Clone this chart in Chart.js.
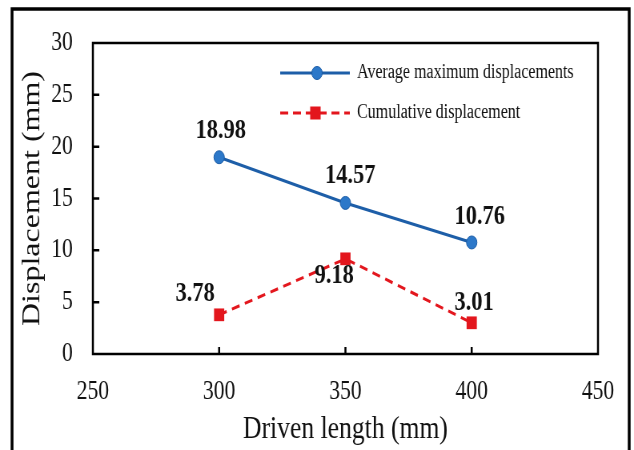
<!DOCTYPE html>
<html>
<head>
<meta charset="utf-8">
<script src="https://cdn.jsdelivr.net/npm/chart.js@4/dist/chart.umd.min.js"></script>
<style>
  html, body { margin: 0; padding: 0; background: #fff; overflow: hidden; }
  #chart { display: block; }
</style>
</head>
<body>
<!-- drawn on a wider canvas and shown narrower, giving the tall, condensed lettering -->
<canvas id="chart" width="792" height="450" style="width:634px;height:450px"></canvas>
<script>
// ---- data ----
const drivenLength = [300, 350, 400];
const avgMaxDisplacement = [18.98, 14.57, 10.76];
const cumulativeDisplacement = [3.78, 9.18, 3.01];
const seriesNames = ['Average maximum displacements', 'Cumulative displacement'];
const xTickValues = [250, 300, 350, 400, 450];
const yTickValues = [0, 5, 10, 15, 20, 25, 30];

// ---- styling ----
const SERIF = "'Liberation Serif', 'Times New Roman', serif";
const BLUE_LINE = '#1d5ea8';
const BLUE_FILL = '#2c78c9';
const RED = '#e3161d';
// value label placement relative to each point (canvas units)
const avgLabelOffsets = [[2, -29], [6, -29], [10, -28]];
const cumLabelOffsets = [[-30, -23], [-14, 15], [3, -22]];

const toPoints = (xs, ys) => xs.map((x, i) => ({ x, y: ys[i] }));

const decorations = {
  id: 'decorations',
  beforeDraw(chart) {
    const { ctx, width, height } = chart;
    ctx.save();
    ctx.fillStyle = '#fff';
    ctx.fillRect(0, 0, width, height);
    ctx.restore();
  },
  afterDraw(chart) {
    const { ctx, chartArea: a, scales } = chart;
    const xs = scales.x, ys = scales.y;
    ctx.save();

    // plot frame
    ctx.strokeStyle = '#000';
    ctx.lineWidth = 2.5;
    ctx.strokeRect(a.left, a.top, a.right - a.left, a.bottom - a.top);

    // inward tick marks
    ctx.lineWidth = 2.5;
    ctx.beginPath();
    yTickValues.forEach(v => {
      if (v === ys.min || v === ys.max) return;
      const py = ys.getPixelForValue(v);
      ctx.moveTo(a.left, py);
      ctx.lineTo(a.left + 8, py);
    });
    xTickValues.forEach(v => {
      if (v === xs.min || v === xs.max) return;
      const px = xs.getPixelForValue(v);
      ctx.moveTo(px, a.bottom);
      ctx.lineTo(px, a.bottom - 7);
    });
    ctx.stroke();

    // value labels
    ctx.fillStyle = '#111';
    ctx.font = 'bold 28px ' + SERIF;
    ctx.textAlign = 'center';
    ctx.textBaseline = 'alphabetic';
    const label = (dsIndex, values, offsets) => {
      chart.getDatasetMeta(dsIndex).data.forEach((pt, i) => {
        ctx.fillText(values[i].toFixed(2), pt.x + offsets[i][0], pt.y + offsets[i][1] + 9.5);
      });
    };
    label(0, avgMaxDisplacement, avgLabelOffsets);
    label(1, cumulativeDisplacement, cumLabelOffsets);

    // legend
    const lx0 = 350, lx1 = 437, textX = 446;
    const row1 = 73, row2 = 113;
    ctx.lineWidth = 3;
    ctx.strokeStyle = BLUE_LINE;
    ctx.beginPath(); ctx.moveTo(lx0, row1); ctx.lineTo(lx1, row1); ctx.stroke();
    ctx.fillStyle = BLUE_FILL;
    ctx.lineWidth = 1;
    ctx.beginPath(); ctx.arc(396, row1, 6.5, 0, Math.PI * 2); ctx.fill(); ctx.stroke();

    ctx.strokeStyle = RED;
    ctx.lineWidth = 3;
    ctx.setLineDash([10, 6]);
    ctx.beginPath(); ctx.moveTo(lx0, row2); ctx.lineTo(lx1, row2); ctx.stroke();
    ctx.setLineDash([]);
    ctx.fillStyle = RED;
    ctx.fillRect(394 - 6.5, row2 - 6.5, 13, 13);

    ctx.fillStyle = '#111';
    ctx.font = '20px ' + SERIF;
    ctx.textAlign = 'left';
    ctx.textBaseline = 'middle';
    ctx.fillText(seriesNames[0], textX, row1);
    ctx.fillText(seriesNames[1], textX, row2);

    // outer border
    ctx.strokeStyle = '#000';
    ctx.lineWidth = 3.5;
    ctx.beginPath();
    ctx.moveTo(15, 460);
    ctx.lineTo(15, 9);
    ctx.lineTo(786, 9);
    ctx.lineTo(786, 460);
    ctx.stroke();

    ctx.restore();
  }
};

new Chart(document.getElementById('chart'), {
  type: 'line',
  data: {
    datasets: [
      {
        label: seriesNames[0],
        data: toPoints(drivenLength, avgMaxDisplacement),
        borderColor: BLUE_LINE,
        borderWidth: 3,
        pointStyle: 'circle',
        pointRadius: 6.5,
        pointBackgroundColor: BLUE_FILL,
        pointBorderColor: BLUE_LINE,
        pointBorderWidth: 1,
        tension: 0
      },
      {
        label: seriesNames[1],
        data: toPoints(drivenLength, cumulativeDisplacement),
        borderColor: RED,
        borderWidth: 3,
        borderDash: [10, 7],
        pointStyle: 'rect',
        pointRadius: 9,
        pointBackgroundColor: RED,
        pointBorderColor: RED,
        pointBorderWidth: 0,
        tension: 0
      }
    ]
  },
  options: {
    responsive: false,
    devicePixelRatio: 1,
    animation: false,
    layout: { padding: { left: 0, top: 43, right: 45, bottom: 0 } },
    plugins: { legend: { display: false }, tooltip: { enabled: false } },
    scales: {
      x: {
        type: 'linear',
        min: 250, max: 450,
        afterBuildTicks: s => { s.ticks = xTickValues.map(v => ({ value: v })); },
        afterFit: s => { s.height = 96; },
        grid: { display: false, drawTicks: false },
        border: { display: false },
        ticks: { color: '#111', padding: 22, font: { family: SERIF, size: 27 }, maxRotation: 0 },
        title: {
          display: true, text: 'Driven length (mm)', color: '#111',
          font: { family: SERIF, size: 32 }, padding: { top: 0, bottom: 1 }
        }
      },
      y: {
        type: 'linear',
        min: 0, max: 30,
        afterBuildTicks: s => { s.ticks = yTickValues.map(v => ({ value: v })); },
        afterFit: s => { s.width = 116; },
        grid: { display: false, drawTicks: false },
        border: { display: false },
        ticks: { color: '#111', padding: 25, font: { family: SERIF, size: 27 } },
        title: {
          display: true, text: 'Displacement (mm)', color: '#111',
          font: { family: SERIF, size: 32 }, padding: { top: 21, bottom: 0 }
        }
      }
    }
  },
  plugins: [decorations]
});
</script>
</body>
</html>
